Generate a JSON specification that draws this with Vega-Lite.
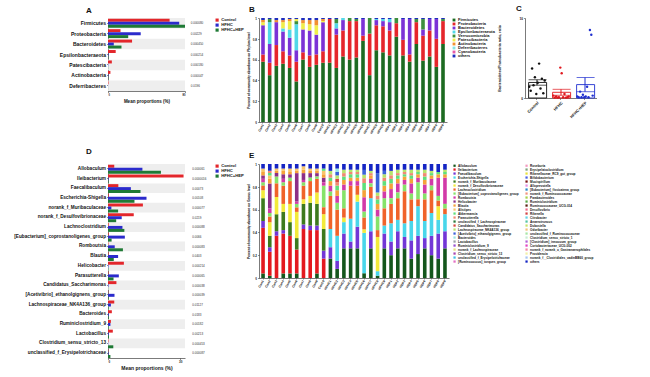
{
"$schema": "https://vega.github.io/schema/vega-lite/v6.json",
"background": "white",
"padding": {"left": 2, "top": 5, "right": 0, "bottom": 0},
"config": {
  "font": "Liberation Sans",
  "view": {"stroke": null},
  "axis": {"grid": false, "domainColor": "#222", "tickColor": "#222", "labelColor": "#111", "titleColor": "#111", "labelFontWeight": "bold", "titleFontWeight": "bold", "domainWidth": 0.6, "tickWidth": 0.5, "tickSize": 1.5, "labelPadding": 1},
  "legend": {"labelFontWeight": "bold", "labelColor": "#111", "padding": 0, "rowPadding": 0, "symbolStrokeWidth": 0, "labelOffset": 2, "symbolLimit": 0},
  "title": {"fontSize": 8, "fontWeight": "bold", "anchor": "start", "offset": 3, "color": "#111", "frame": "group"}
},
"datasets": {
  "phylumMeans": [
    {"taxon": "Firmicutes", "group": "Control", "mean": 64}, {"taxon": "Firmicutes", "group": "HFHC", "mean": 74}, {"taxon": "Firmicutes", "group": "HFHC+HEP", "mean": 80},
    {"taxon": "Proteobacteria", "group": "Control", "mean": 13}, {"taxon": "Proteobacteria", "group": "HFHC", "mean": 34}, {"taxon": "Proteobacteria", "group": "HFHC+HEP", "mean": 21},
    {"taxon": "Bacteroidetes", "group": "Control", "mean": 25}, {"taxon": "Bacteroidetes", "group": "HFHC", "mean": 6}, {"taxon": "Bacteroidetes", "group": "HFHC+HEP", "mean": 14},
    {"taxon": "Epsilonbacteraeota", "group": "Control", "mean": 8}, {"taxon": "Epsilonbacteraeota", "group": "HFHC", "mean": 0.4}, {"taxon": "Epsilonbacteraeota", "group": "HFHC+HEP", "mean": 0.3},
    {"taxon": "Patescibacteria", "group": "Control", "mean": 4}, {"taxon": "Patescibacteria", "group": "HFHC", "mean": 0.3}, {"taxon": "Patescibacteria", "group": "HFHC+HEP", "mean": 0.2},
    {"taxon": "Actinobacteria", "group": "Control", "mean": 2.5}, {"taxon": "Actinobacteria", "group": "HFHC", "mean": 0.3}, {"taxon": "Actinobacteria", "group": "HFHC+HEP", "mean": 0.2},
    {"taxon": "Deferribacteres", "group": "Control", "mean": 0.5}, {"taxon": "Deferribacteres", "group": "HFHC", "mean": 0.1}, {"taxon": "Deferribacteres", "group": "HFHC+HEP", "mean": 0.1}
  ],
  "phylumP": [
    {"taxon": "Firmicutes", "p": "0.000080"}, {"taxon": "Proteobacteria", "p": "0.00229"}, {"taxon": "Bacteroidetes", "p": "0.000450"},
    {"taxon": "Epsilonbacteraeota", "p": "0.000214"}, {"taxon": "Patescibacteria", "p": "0.000180"}, {"taxon": "Actinobacteria", "p": "0.000047"}, {"taxon": "Deferribacteres", "p": "0.0196"}
  ],
  "genusMeans": [
    {"taxon": "Allobaculum", "group": "Control", "mean": 2.6}, {"taxon": "Allobaculum", "group": "HFHC", "mean": 14.3}, {"taxon": "Allobaculum", "group": "HFHC+HEP", "mean": 22},
    {"taxon": "Ileibacterium", "group": "Control", "mean": 31.4}, {"taxon": "Ileibacterium", "group": "HFHC", "mean": 0.2}, {"taxon": "Ileibacterium", "group": "HFHC+HEP", "mean": 0.2},
    {"taxon": "Faecalibaculum", "group": "Control", "mean": 4.3}, {"taxon": "Faecalibaculum", "group": "HFHC", "mean": 9.5}, {"taxon": "Faecalibaculum", "group": "HFHC+HEP", "mean": 13.5},
    {"taxon": "Escherichia-Shigella", "group": "Control", "mean": 0.3}, {"taxon": "Escherichia-Shigella", "group": "HFHC", "mean": 16}, {"taxon": "Escherichia-Shigella", "group": "HFHC+HEP", "mean": 11},
    {"taxon": "norank_f_Muribaculaceae", "group": "Control", "mean": 14.5}, {"taxon": "norank_f_Muribaculaceae", "group": "HFHC", "mean": 1.4}, {"taxon": "norank_f_Muribaculaceae", "group": "HFHC+HEP", "mean": 4.2},
    {"taxon": "norank_f_Desulfovibrionaceae", "group": "Control", "mean": 10.7}, {"taxon": "norank_f_Desulfovibrionaceae", "group": "HFHC", "mean": 5.7}, {"taxon": "norank_f_Desulfovibrionaceae", "group": "HFHC+HEP", "mean": 3.4},
    {"taxon": "Lachnoclostridium", "group": "Control", "mean": 0.3}, {"taxon": "Lachnoclostridium", "group": "HFHC", "mean": 6}, {"taxon": "Lachnoclostridium", "group": "HFHC+HEP", "mean": 6.8},
    {"taxon": "[Eubacterium]_coprostanoligenes_group", "group": "Control", "mean": 0.3}, {"taxon": "[Eubacterium]_coprostanoligenes_group", "group": "HFHC", "mean": 7}, {"taxon": "[Eubacterium]_coprostanoligenes_group", "group": "HFHC+HEP", "mean": 1.5},
    {"taxon": "Romboutsia", "group": "Control", "mean": 0.2}, {"taxon": "Romboutsia", "group": "HFHC", "mean": 2.8}, {"taxon": "Romboutsia", "group": "HFHC+HEP", "mean": 6.2},
    {"taxon": "Blautia", "group": "Control", "mean": 0.2}, {"taxon": "Blautia", "group": "HFHC", "mean": 4.2}, {"taxon": "Blautia", "group": "HFHC+HEP", "mean": 2.4},
    {"taxon": "Helicobacter", "group": "Control", "mean": 6.6}, {"taxon": "Helicobacter", "group": "HFHC", "mean": 0.2}, {"taxon": "Helicobacter", "group": "HFHC+HEP", "mean": 0.2},
    {"taxon": "Parasutterella", "group": "Control", "mean": 0.2}, {"taxon": "Parasutterella", "group": "HFHC", "mean": 4.5}, {"taxon": "Parasutterella", "group": "HFHC+HEP", "mean": 2.3},
    {"taxon": "Candidatus_Saccharimonas", "group": "Control", "mean": 3.5}, {"taxon": "Candidatus_Saccharimonas", "group": "HFHC", "mean": 0.2}, {"taxon": "Candidatus_Saccharimonas", "group": "HFHC+HEP", "mean": 0.1},
    {"taxon": "[Acetivibrio]_ethanolgignens_group", "group": "Control", "mean": 0.1}, {"taxon": "[Acetivibrio]_ethanolgignens_group", "group": "HFHC", "mean": 2.7}, {"taxon": "[Acetivibrio]_ethanolgignens_group", "group": "HFHC+HEP", "mean": 0.2},
    {"taxon": "Lachnospiraceae_NK4A136_group", "group": "Control", "mean": 2.6}, {"taxon": "Lachnospiraceae_NK4A136_group", "group": "HFHC", "mean": 1.2}, {"taxon": "Lachnospiraceae_NK4A136_group", "group": "HFHC+HEP", "mean": 0.3},
    {"taxon": "Bacteroides", "group": "Control", "mean": 1.6}, {"taxon": "Bacteroides", "group": "HFHC", "mean": 0.3}, {"taxon": "Bacteroides", "group": "HFHC+HEP", "mean": 0.3},
    {"taxon": "Ruminiclostridium_9", "group": "Control", "mean": 1.2}, {"taxon": "Ruminiclostridium_9", "group": "HFHC", "mean": 1.0}, {"taxon": "Ruminiclostridium_9", "group": "HFHC+HEP", "mean": 0.3},
    {"taxon": "Lactobacillus", "group": "Control", "mean": 2.0}, {"taxon": "Lactobacillus", "group": "HFHC", "mean": 0.3}, {"taxon": "Lactobacillus", "group": "HFHC+HEP", "mean": 0.4},
    {"taxon": "Clostridium_sensu_stricto_13", "group": "Control", "mean": 0.2}, {"taxon": "Clostridium_sensu_stricto_13", "group": "HFHC", "mean": 0.1}, {"taxon": "Clostridium_sensu_stricto_13", "group": "HFHC+HEP", "mean": 2.2},
    {"taxon": "unclassified_f_Erysipelotrichaceae", "group": "Control", "mean": 0.1}, {"taxon": "unclassified_f_Erysipelotrichaceae", "group": "HFHC", "mean": 0.2}, {"taxon": "unclassified_f_Erysipelotrichaceae", "group": "HFHC+HEP", "mean": 1.0}
  ],
  "genusP": [
    {"taxon": "Allobaculum", "p": "0.000061"}, {"taxon": "Ileibacterium", "p": "0.0000016"}, {"taxon": "Faecalibaculum", "p": "0.00073"},
    {"taxon": "Escherichia-Shigella", "p": "0.00108"}, {"taxon": "norank_f_Muribaculaceae", "p": "0.000077"}, {"taxon": "norank_f_Desulfovibrionaceae", "p": "0.0219"},
    {"taxon": "Lachnoclostridium", "p": "0.000088"}, {"taxon": "[Eubacterium]_coprostanoligenes_group", "p": "0.0066"}, {"taxon": "Romboutsia", "p": "0.000083"},
    {"taxon": "Blautia", "p": "0.0403"}, {"taxon": "Helicobacter", "p": "0.000214"}, {"taxon": "Parasutterella", "p": "0.000065"},
    {"taxon": "Candidatus_Saccharimonas", "p": "0.000038"}, {"taxon": "[Acetivibrio]_ethanolgignens_group", "p": "0.000039"}, {"taxon": "Lachnospiraceae_NK4A136_group", "p": "0.01127"},
    {"taxon": "Bacteroides", "p": "0.0183"}, {"taxon": "Ruminiclostridium_9", "p": "0.00182"}, {"taxon": "Lactobacillus", "p": "0.00213"},
    {"taxon": "Clostridium_sensu_stricto_13", "p": "0.000453"}, {"taxon": "unclassified_f_Erysipelotrichaceae", "p": "0.000087"}
  ],
  "ratio": [
    {"group": "Control", "mouse": "5", "ratio": 4.3}, {"group": "Control", "mouse": "11", "ratio": 3.7}, {"group": "Control", "mouse": "2", "ratio": 2.6}, {"group": "Control", "mouse": "7", "ratio": 2.4},
    {"group": "Control", "mouse": "9", "ratio": 2.2}, {"group": "Control", "mouse": "4", "ratio": 1.9}, {"group": "Control", "mouse": "12", "ratio": 1.6}, {"group": "Control", "mouse": "1", "ratio": 1.4},
    {"group": "Control", "mouse": "6", "ratio": 1.2}, {"group": "Control", "mouse": "10", "ratio": 0.9}, {"group": "Control", "mouse": "8", "ratio": 0.6}, {"group": "Control", "mouse": "3", "ratio": 0.5},
    {"group": "HFHC", "mouse": "3", "ratio": 3.8}, {"group": "HFHC", "mouse": "4", "ratio": 3.1}, {"group": "HFHC", "mouse": "6", "ratio": 0.5}, {"group": "HFHC", "mouse": "1", "ratio": 0.3},
    {"group": "HFHC", "mouse": "9", "ratio": 0.2}, {"group": "HFHC", "mouse": "11", "ratio": 0.2}, {"group": "HFHC", "mouse": "2", "ratio": 0.1}, {"group": "HFHC", "mouse": "5", "ratio": 0.1},
    {"group": "HFHC", "mouse": "8", "ratio": 0.1}, {"group": "HFHC", "mouse": "7", "ratio": 0.05}, {"group": "HFHC", "mouse": "10", "ratio": 0.05}, {"group": "HFHC", "mouse": "12", "ratio": 0.05},
    {"group": "HFHC+HEP", "mouse": "7", "ratio": 8.5}, {"group": "HFHC+HEP", "mouse": "8", "ratio": 7.9}, {"group": "HFHC+HEP", "mouse": "5", "ratio": 1.4}, {"group": "HFHC+HEP", "mouse": "11", "ratio": 0.8},
    {"group": "HFHC+HEP", "mouse": "2", "ratio": 0.4}, {"group": "HFHC+HEP", "mouse": "9", "ratio": 0.3}, {"group": "HFHC+HEP", "mouse": "1", "ratio": 0.2}, {"group": "HFHC+HEP", "mouse": "4", "ratio": 0.2},
    {"group": "HFHC+HEP", "mouse": "12", "ratio": 0.1}, {"group": "HFHC+HEP", "mouse": "3", "ratio": 0.1}, {"group": "HFHC+HEP", "mouse": "6", "ratio": 0.1}, {"group": "HFHC+HEP", "mouse": "10", "ratio": 0.1}
  ],
  "phylumSamples": [
    {"sample": "Con1", "phylum": "Firmicutes", "pct": 0.58}, {"sample": "Con1", "phylum": "Proteobacteria", "pct": 0.07}, {"sample": "Con1", "phylum": "Bacteroidetes", "pct": 0.28}, {"sample": "Con1", "phylum": "Patescibacteria", "pct": 0.03}, {"sample": "Con1", "phylum": "Actinobacteria", "pct": 0.02}, {"sample": "Con1", "phylum": "others", "pct": 0.02},
    {"sample": "Con2", "phylum": "Firmicutes", "pct": 0.45}, {"sample": "Con2", "phylum": "Proteobacteria", "pct": 0.12}, {"sample": "Con2", "phylum": "Bacteroidetes", "pct": 0.18}, {"sample": "Con2", "phylum": "Epsilonbacteraeota", "pct": 0.21}, {"sample": "Con2", "phylum": "Verrucomicrobia", "pct": 0.03}, {"sample": "Con2", "phylum": "others", "pct": 0.01},
    {"sample": "Con3", "phylum": "Firmicutes", "pct": 0.54}, {"sample": "Con3", "phylum": "Proteobacteria", "pct": 0.20}, {"sample": "Con3", "phylum": "Bacteroidetes", "pct": 0.22}, {"sample": "Con3", "phylum": "Actinobacteria", "pct": 0.02}, {"sample": "Con3", "phylum": "others", "pct": 0.02},
    {"sample": "Con4", "phylum": "Firmicutes", "pct": 0.56}, {"sample": "Con4", "phylum": "Proteobacteria", "pct": 0.12}, {"sample": "Con4", "phylum": "Bacteroidetes", "pct": 0.19}, {"sample": "Con4", "phylum": "Epsilonbacteraeota", "pct": 0.03}, {"sample": "Con4", "phylum": "Patescibacteria", "pct": 0.06}, {"sample": "Con4", "phylum": "Actinobacteria", "pct": 0.02}, {"sample": "Con4", "phylum": "others", "pct": 0.02},
    {"sample": "Con5", "phylum": "Firmicutes", "pct": 0.52}, {"sample": "Con5", "phylum": "Proteobacteria", "pct": 0.12}, {"sample": "Con5", "phylum": "Bacteroidetes", "pct": 0.17}, {"sample": "Con5", "phylum": "Epsilonbacteraeota", "pct": 0.08}, {"sample": "Con5", "phylum": "Patescibacteria", "pct": 0.08}, {"sample": "Con5", "phylum": "Actinobacteria", "pct": 0.02}, {"sample": "Con5", "phylum": "others", "pct": 0.01},
    {"sample": "Con6", "phylum": "Firmicutes", "pct": 0.39}, {"sample": "Con6", "phylum": "Proteobacteria", "pct": 0.19}, {"sample": "Con6", "phylum": "Bacteroidetes", "pct": 0.11}, {"sample": "Con6", "phylum": "Epsilonbacteraeota", "pct": 0.25}, {"sample": "Con6", "phylum": "Verrucomicrobia", "pct": 0.03}, {"sample": "Con6", "phylum": "Patescibacteria", "pct": 0.02}, {"sample": "Con6", "phylum": "others", "pct": 0.01},
    {"sample": "Con7", "phylum": "Firmicutes", "pct": 0.60}, {"sample": "Con7", "phylum": "Proteobacteria", "pct": 0.07}, {"sample": "Con7", "phylum": "Bacteroidetes", "pct": 0.22}, {"sample": "Con7", "phylum": "Patescibacteria", "pct": 0.06}, {"sample": "Con7", "phylum": "Actinobacteria", "pct": 0.03}, {"sample": "Con7", "phylum": "others", "pct": 0.02},
    {"sample": "Con8", "phylum": "Firmicutes", "pct": 0.53}, {"sample": "Con8", "phylum": "Proteobacteria", "pct": 0.11}, {"sample": "Con8", "phylum": "Bacteroidetes", "pct": 0.24}, {"sample": "Con8", "phylum": "Patescibacteria", "pct": 0.06}, {"sample": "Con8", "phylum": "Actinobacteria", "pct": 0.04}, {"sample": "Con8", "phylum": "others", "pct": 0.02},
    {"sample": "Con9", "phylum": "Firmicutes", "pct": 0.55}, {"sample": "Con9", "phylum": "Proteobacteria", "pct": 0.10}, {"sample": "Con9", "phylum": "Bacteroidetes", "pct": 0.19}, {"sample": "Con9", "phylum": "Patescibacteria", "pct": 0.09}, {"sample": "Con9", "phylum": "Actinobacteria", "pct": 0.05}, {"sample": "Con9", "phylum": "others", "pct": 0.02},
    {"sample": "Con10", "phylum": "Firmicutes", "pct": 0.57}, {"sample": "Con10", "phylum": "Proteobacteria", "pct": 0.11}, {"sample": "Con10", "phylum": "Bacteroidetes", "pct": 0.28}, {"sample": "Con10", "phylum": "Patescibacteria", "pct": 0.01}, {"sample": "Con10", "phylum": "Actinobacteria", "pct": 0.02}, {"sample": "Con10", "phylum": "others", "pct": 0.01},
    {"sample": "HFHC1", "phylum": "Firmicutes", "pct": 0.57}, {"sample": "HFHC1", "phylum": "Proteobacteria", "pct": 0.42}, {"sample": "HFHC1", "phylum": "others", "pct": 0.01},
    {"sample": "HFHC2", "phylum": "Firmicutes", "pct": 0.52}, {"sample": "HFHC2", "phylum": "Proteobacteria", "pct": 0.32}, {"sample": "HFHC2", "phylum": "Bacteroidetes", "pct": 0.06}, {"sample": "HFHC2", "phylum": "Epsilonbacteraeota", "pct": 0.05}, {"sample": "HFHC2", "phylum": "Verrucomicrobia", "pct": 0.04}, {"sample": "HFHC2", "phylum": "others", "pct": 0.01},
    {"sample": "HFHC3", "phylum": "Firmicutes", "pct": 0.63}, {"sample": "HFHC3", "phylum": "Proteobacteria", "pct": 0.25}, {"sample": "HFHC3", "phylum": "Bacteroidetes", "pct": 0.10}, {"sample": "HFHC3", "phylum": "Epsilonbacteraeota", "pct": 0.02},
    {"sample": "HFHC4", "phylum": "Firmicutes", "pct": 0.60}, {"sample": "HFHC4", "phylum": "Proteobacteria", "pct": 0.37}, {"sample": "HFHC4", "phylum": "Verrucomicrobia", "pct": 0.03},
    {"sample": "HFHC5", "phylum": "Firmicutes", "pct": 0.62}, {"sample": "HFHC5", "phylum": "Proteobacteria", "pct": 0.35}, {"sample": "HFHC5", "phylum": "Verrucomicrobia", "pct": 0.02}, {"sample": "HFHC5", "phylum": "others", "pct": 0.01},
    {"sample": "HFHC6", "phylum": "Firmicutes", "pct": 0.78}, {"sample": "HFHC6", "phylum": "Proteobacteria", "pct": 0.05}, {"sample": "HFHC6", "phylum": "Bacteroidetes", "pct": 0.16}, {"sample": "HFHC6", "phylum": "others", "pct": 0.01},
    {"sample": "HFHC7", "phylum": "Firmicutes", "pct": 0.45}, {"sample": "HFHC7", "phylum": "Proteobacteria", "pct": 0.40}, {"sample": "HFHC7", "phylum": "Verrucomicrobia", "pct": 0.15},
    {"sample": "HFHC8", "phylum": "Firmicutes", "pct": 0.69}, {"sample": "HFHC8", "phylum": "Proteobacteria", "pct": 0.24}, {"sample": "HFHC8", "phylum": "Bacteroidetes", "pct": 0.05}, {"sample": "HFHC8", "phylum": "Epsilonbacteraeota", "pct": 0.01}, {"sample": "HFHC8", "phylum": "others", "pct": 0.01},
    {"sample": "HFHC9", "phylum": "Firmicutes", "pct": 0.67}, {"sample": "HFHC9", "phylum": "Proteobacteria", "pct": 0.25}, {"sample": "HFHC9", "phylum": "Bacteroidetes", "pct": 0.05}, {"sample": "HFHC9", "phylum": "Epsilonbacteraeota", "pct": 0.02}, {"sample": "HFHC9", "phylum": "others", "pct": 0.01},
    {"sample": "HEP1", "phylum": "Firmicutes", "pct": 0.64}, {"sample": "HEP1", "phylum": "Proteobacteria", "pct": 0.24}, {"sample": "HEP1", "phylum": "Bacteroidetes", "pct": 0.08}, {"sample": "HEP1", "phylum": "Epsilonbacteraeota", "pct": 0.03}, {"sample": "HEP1", "phylum": "others", "pct": 0.01},
    {"sample": "HEP2", "phylum": "Firmicutes", "pct": 0.82}, {"sample": "HEP2", "phylum": "Proteobacteria", "pct": 0.13}, {"sample": "HEP2", "phylum": "Verrucomicrobia", "pct": 0.05},
    {"sample": "HEP3", "phylum": "Firmicutes", "pct": 0.64}, {"sample": "HEP3", "phylum": "Proteobacteria", "pct": 0.15}, {"sample": "HEP3", "phylum": "Bacteroidetes", "pct": 0.20}, {"sample": "HEP3", "phylum": "others", "pct": 0.01},
    {"sample": "HEP4", "phylum": "Firmicutes", "pct": 0.58}, {"sample": "HEP4", "phylum": "Proteobacteria", "pct": 0.07}, {"sample": "HEP4", "phylum": "Bacteroidetes", "pct": 0.34}, {"sample": "HEP4", "phylum": "others", "pct": 0.01},
    {"sample": "HEP5", "phylum": "Firmicutes", "pct": 0.75}, {"sample": "HEP5", "phylum": "Proteobacteria", "pct": 0.21}, {"sample": "HEP5", "phylum": "Verrucomicrobia", "pct": 0.03}, {"sample": "HEP5", "phylum": "others", "pct": 0.01},
    {"sample": "HEP6", "phylum": "Firmicutes", "pct": 0.59}, {"sample": "HEP6", "phylum": "Proteobacteria", "pct": 0.24}, {"sample": "HEP6", "phylum": "Bacteroidetes", "pct": 0.06}, {"sample": "HEP6", "phylum": "Verrucomicrobia", "pct": 0.10}, {"sample": "HEP6", "phylum": "others", "pct": 0.01},
    {"sample": "HEP7", "phylum": "Firmicutes", "pct": 0.63}, {"sample": "HEP7", "phylum": "Proteobacteria", "pct": 0.25}, {"sample": "HEP7", "phylum": "Bacteroidetes", "pct": 0.11}, {"sample": "HEP7", "phylum": "others", "pct": 0.01},
    {"sample": "HEP8", "phylum": "Firmicutes", "pct": 0.53}, {"sample": "HEP8", "phylum": "Proteobacteria", "pct": 0.27}, {"sample": "HEP8", "phylum": "Bacteroidetes", "pct": 0.19}, {"sample": "HEP8", "phylum": "others", "pct": 0.01},
    {"sample": "HEP9", "phylum": "Firmicutes", "pct": 0.75}, {"sample": "HEP9", "phylum": "Proteobacteria", "pct": 0.22}, {"sample": "HEP9", "phylum": "Verrucomicrobia", "pct": 0.02}, {"sample": "HEP9", "phylum": "others", "pct": 0.01}
  ],
  "genusSamples": [
    {"sample": "Con1", "genus": "Allobaculum", "pct": 0.04}, {"sample": "Con1", "genus": "Ileibacterium", "pct": 0.40}, {"sample": "Con1", "genus": "Faecalibaculum", "pct": 0.06}, {"sample": "Con1", "genus": "norank_f_Muribaculaceae", "pct": 0.20}, {"sample": "Con1", "genus": "norank_f_Desulfovibrionaceae", "pct": 0.07}, {"sample": "Con1", "genus": "[Eubacterium]_coprostanoligenes_group", "pct": 0.03}, {"sample": "Con1", "genus": "Lachnoclostridium", "pct": 0.04}, {"sample": "Con1", "genus": "Helicobacter", "pct": 0.03}, {"sample": "Con1", "genus": "Blautia", "pct": 0.03}, {"sample": "Con1", "genus": "Alistipes", "pct": 0.03}, {"sample": "Con1", "genus": "Romboutsia", "pct": 0.03}, {"sample": "Con1", "genus": "others", "pct": 0.04},
    {"sample": "Con2", "genus": "Allobaculum", "pct": 0.02}, {"sample": "Con2", "genus": "Ileibacterium", "pct": 0.21}, {"sample": "Con2", "genus": "Faecalibaculum", "pct": 0.04}, {"sample": "Con2", "genus": "norank_f_Muribaculaceae", "pct": 0.10}, {"sample": "Con2", "genus": "norank_f_Desulfovibrionaceae", "pct": 0.12}, {"sample": "Con2", "genus": "Helicobacter", "pct": 0.22}, {"sample": "Con2", "genus": "Lachnoclostridium", "pct": 0.05}, {"sample": "Con2", "genus": "Romboutsia", "pct": 0.04}, {"sample": "Con2", "genus": "Blautia", "pct": 0.04}, {"sample": "Con2", "genus": "Alistipes", "pct": 0.03}, {"sample": "Con2", "genus": "[Eubacterium]_coprostanoligenes_group", "pct": 0.03}, {"sample": "Con2", "genus": "Akkermansia", "pct": 0.02}, {"sample": "Con2", "genus": "Parasutterella", "pct": 0.02}, {"sample": "Con2", "genus": "others", "pct": 0.06},
    {"sample": "Con3", "genus": "Ileibacterium", "pct": 0.37}, {"sample": "Con3", "genus": "Faecalibaculum", "pct": 0.04}, {"sample": "Con3", "genus": "norank_f_Muribaculaceae", "pct": 0.15}, {"sample": "Con3", "genus": "norank_f_Desulfovibrionaceae", "pct": 0.15}, {"sample": "Con3", "genus": "[Eubacterium]_coprostanoligenes_group", "pct": 0.06}, {"sample": "Con3", "genus": "Lachnoclostridium", "pct": 0.12}, {"sample": "Con3", "genus": "Helicobacter", "pct": 0.03}, {"sample": "Con3", "genus": "Blautia", "pct": 0.02}, {"sample": "Con3", "genus": "Alistipes", "pct": 0.02}, {"sample": "Con3", "genus": "others", "pct": 0.04},
    {"sample": "Con4", "genus": "Allobaculum", "pct": 0.04}, {"sample": "Con4", "genus": "Ileibacterium", "pct": 0.35}, {"sample": "Con4", "genus": "Faecalibaculum", "pct": 0.03}, {"sample": "Con4", "genus": "norank_f_Muribaculaceae", "pct": 0.16}, {"sample": "Con4", "genus": "norank_f_Desulfovibrionaceae", "pct": 0.07}, {"sample": "Con4", "genus": "Lachnoclostridium", "pct": 0.16}, {"sample": "Con4", "genus": "[Eubacterium]_coprostanoligenes_group", "pct": 0.03}, {"sample": "Con4", "genus": "Helicobacter", "pct": 0.04}, {"sample": "Con4", "genus": "Blautia", "pct": 0.03}, {"sample": "Con4", "genus": "Romboutsia", "pct": 0.03}, {"sample": "Con4", "genus": "Alistipes", "pct": 0.02}, {"sample": "Con4", "genus": "others", "pct": 0.04},
    {"sample": "Con5", "genus": "Allobaculum", "pct": 0.04}, {"sample": "Con5", "genus": "Ileibacterium", "pct": 0.33}, {"sample": "Con5", "genus": "norank_f_Muribaculaceae", "pct": 0.12}, {"sample": "Con5", "genus": "norank_f_Desulfovibrionaceae", "pct": 0.16}, {"sample": "Con5", "genus": "Lachnoclostridium", "pct": 0.20}, {"sample": "Con5", "genus": "[Eubacterium]_coprostanoligenes_group", "pct": 0.03}, {"sample": "Con5", "genus": "Helicobacter", "pct": 0.03}, {"sample": "Con5", "genus": "Blautia", "pct": 0.02}, {"sample": "Con5", "genus": "Alistipes", "pct": 0.03}, {"sample": "Con5", "genus": "others", "pct": 0.04},
    {"sample": "Con6", "genus": "Allobaculum", "pct": 0.04}, {"sample": "Con6", "genus": "Ileibacterium", "pct": 0.21}, {"sample": "Con6", "genus": "norank_f_Muribaculaceae", "pct": 0.10}, {"sample": "Con6", "genus": "norank_f_Desulfovibrionaceae", "pct": 0.23}, {"sample": "Con6", "genus": "Helicobacter", "pct": 0.25}, {"sample": "Con6", "genus": "Lachnoclostridium", "pct": 0.04}, {"sample": "Con6", "genus": "[Eubacterium]_coprostanoligenes_group", "pct": 0.03}, {"sample": "Con6", "genus": "Blautia", "pct": 0.02}, {"sample": "Con6", "genus": "Alistipes", "pct": 0.02}, {"sample": "Con6", "genus": "Romboutsia", "pct": 0.02}, {"sample": "Con6", "genus": "others", "pct": 0.04},
    {"sample": "Con7", "genus": "Ileibacterium", "pct": 0.43}, {"sample": "Con7", "genus": "Faecalibaculum", "pct": 0.04}, {"sample": "Con7", "genus": "norank_f_Muribaculaceae", "pct": 0.18}, {"sample": "Con7", "genus": "norank_f_Desulfovibrionaceae", "pct": 0.04}, {"sample": "Con7", "genus": "Lachnoclostridium", "pct": 0.12}, {"sample": "Con7", "genus": "Helicobacter", "pct": 0.06}, {"sample": "Con7", "genus": "[Eubacterium]_coprostanoligenes_group", "pct": 0.03}, {"sample": "Con7", "genus": "Blautia", "pct": 0.03}, {"sample": "Con7", "genus": "Alistipes", "pct": 0.03}, {"sample": "Con7", "genus": "Romboutsia", "pct": 0.02}, {"sample": "Con7", "genus": "others", "pct": 0.02},
    {"sample": "Con8", "genus": "Ileibacterium", "pct": 0.42}, {"sample": "Con8", "genus": "Faecalibaculum", "pct": 0.04}, {"sample": "Con8", "genus": "norank_f_Muribaculaceae", "pct": 0.20}, {"sample": "Con8", "genus": "norank_f_Desulfovibrionaceae", "pct": 0.06}, {"sample": "Con8", "genus": "Lachnoclostridium", "pct": 0.13}, {"sample": "Con8", "genus": "Helicobacter", "pct": 0.04}, {"sample": "Con8", "genus": "[Eubacterium]_coprostanoligenes_group", "pct": 0.03}, {"sample": "Con8", "genus": "Blautia", "pct": 0.02}, {"sample": "Con8", "genus": "Alistipes", "pct": 0.02}, {"sample": "Con8", "genus": "others", "pct": 0.04},
    {"sample": "Con9", "genus": "Allobaculum", "pct": 0.04}, {"sample": "Con9", "genus": "Ileibacterium", "pct": 0.38}, {"sample": "Con9", "genus": "Faecalibaculum", "pct": 0.04}, {"sample": "Con9", "genus": "norank_f_Muribaculaceae", "pct": 0.19}, {"sample": "Con9", "genus": "norank_f_Desulfovibrionaceae", "pct": 0.10}, {"sample": "Con9", "genus": "Lachnoclostridium", "pct": 0.12}, {"sample": "Con9", "genus": "Helicobacter", "pct": 0.03}, {"sample": "Con9", "genus": "[Eubacterium]_coprostanoligenes_group", "pct": 0.02}, {"sample": "Con9", "genus": "Blautia", "pct": 0.02}, {"sample": "Con9", "genus": "Alistipes", "pct": 0.02}, {"sample": "Con9", "genus": "others", "pct": 0.04},
    {"sample": "Con10", "genus": "Ileibacterium", "pct": 0.17}, {"sample": "Con10", "genus": "Faecalibaculum", "pct": 0.07}, {"sample": "Con10", "genus": "norank_f_Muribaculaceae", "pct": 0.19}, {"sample": "Con10", "genus": "norank_f_Desulfovibrionaceae", "pct": 0.13}, {"sample": "Con10", "genus": "[Eubacterium]_coprostanoligenes_group", "pct": 0.19}, {"sample": "Con10", "genus": "Lachnoclostridium", "pct": 0.06}, {"sample": "Con10", "genus": "Helicobacter", "pct": 0.04}, {"sample": "Con10", "genus": "Romboutsia", "pct": 0.03}, {"sample": "Con10", "genus": "Blautia", "pct": 0.03}, {"sample": "Con10", "genus": "Alistipes", "pct": 0.03}, {"sample": "Con10", "genus": "Akkermansia", "pct": 0.02}, {"sample": "Con10", "genus": "others", "pct": 0.04},
    {"sample": "HFHC1", "genus": "Allobaculum", "pct": 0.17}, {"sample": "HFHC1", "genus": "Faecalibaculum", "pct": 0.10}, {"sample": "HFHC1", "genus": "Escherichia-Shigella", "pct": 0.16}, {"sample": "HFHC1", "genus": "Lachnoclostridium", "pct": 0.29}, {"sample": "HFHC1", "genus": "[Eubacterium]_coprostanoligenes_group", "pct": 0.04}, {"sample": "HFHC1", "genus": "Romboutsia", "pct": 0.05}, {"sample": "HFHC1", "genus": "Blautia", "pct": 0.04}, {"sample": "HFHC1", "genus": "Akkermansia", "pct": 0.03}, {"sample": "HFHC1", "genus": "Parasutterella", "pct": 0.03}, {"sample": "HFHC1", "genus": "Lachnospiraceae_NK4A136_group", "pct": 0.03}, {"sample": "HFHC1", "genus": "others", "pct": 0.06},
    {"sample": "HFHC2", "genus": "Allobaculum", "pct": 0.08}, {"sample": "HFHC2", "genus": "Faecalibaculum", "pct": 0.07}, {"sample": "HFHC2", "genus": "Escherichia-Shigella", "pct": 0.22}, {"sample": "HFHC2", "genus": "Lachnoclostridium", "pct": 0.23}, {"sample": "HFHC2", "genus": "[Eubacterium]_coprostanoligenes_group", "pct": 0.06}, {"sample": "HFHC2", "genus": "Romboutsia", "pct": 0.06}, {"sample": "HFHC2", "genus": "Blautia", "pct": 0.05}, {"sample": "HFHC2", "genus": "Akkermansia", "pct": 0.04}, {"sample": "HFHC2", "genus": "Parasutterella", "pct": 0.03}, {"sample": "HFHC2", "genus": "Candidatus_Saccharimonas", "pct": 0.03}, {"sample": "HFHC2", "genus": "Lachnospiraceae_NK4A136_group", "pct": 0.03}, {"sample": "HFHC2", "genus": "[Acetivibrio]_ethanolgignens_group", "pct": 0.03}, {"sample": "HFHC2", "genus": "Bacteroides", "pct": 0.03}, {"sample": "HFHC2", "genus": "others", "pct": 0.04},
    {"sample": "HFHC3", "genus": "Allobaculum", "pct": 0.26}, {"sample": "HFHC3", "genus": "Faecalibaculum", "pct": 0.13}, {"sample": "HFHC3", "genus": "Escherichia-Shigella", "pct": 0.10}, {"sample": "HFHC3", "genus": "norank_f_Desulfovibrionaceae", "pct": 0.04}, {"sample": "HFHC3", "genus": "[Eubacterium]_coprostanoligenes_group", "pct": 0.16}, {"sample": "HFHC3", "genus": "Lachnoclostridium", "pct": 0.08}, {"sample": "HFHC3", "genus": "Romboutsia", "pct": 0.05}, {"sample": "HFHC3", "genus": "Blautia", "pct": 0.04}, {"sample": "HFHC3", "genus": "Akkermansia", "pct": 0.03}, {"sample": "HFHC3", "genus": "Parasutterella", "pct": 0.03}, {"sample": "HFHC3", "genus": "Lachnospiraceae_NK4A136_group", "pct": 0.03}, {"sample": "HFHC3", "genus": "others", "pct": 0.05},
    {"sample": "HFHC4", "genus": "Allobaculum", "pct": 0.26}, {"sample": "HFHC4", "genus": "Faecalibaculum", "pct": 0.06}, {"sample": "HFHC4", "genus": "Escherichia-Shigella", "pct": 0.20}, {"sample": "HFHC4", "genus": "Lachnoclostridium", "pct": 0.29}, {"sample": "HFHC4", "genus": "Romboutsia", "pct": 0.04}, {"sample": "HFHC4", "genus": "Blautia", "pct": 0.03}, {"sample": "HFHC4", "genus": "Akkermansia", "pct": 0.03}, {"sample": "HFHC4", "genus": "Parasutterella", "pct": 0.02}, {"sample": "HFHC4", "genus": "Lachnospiraceae_NK4A136_group", "pct": 0.02}, {"sample": "HFHC4", "genus": "others", "pct": 0.05},
    {"sample": "HFHC5", "genus": "Allobaculum", "pct": 0.26}, {"sample": "HFHC5", "genus": "Faecalibaculum", "pct": 0.19}, {"sample": "HFHC5", "genus": "Escherichia-Shigella", "pct": 0.22}, {"sample": "HFHC5", "genus": "norank_f_Desulfovibrionaceae", "pct": 0.06}, {"sample": "HFHC5", "genus": "Lachnoclostridium", "pct": 0.08}, {"sample": "HFHC5", "genus": "Romboutsia", "pct": 0.04}, {"sample": "HFHC5", "genus": "Blautia", "pct": 0.03}, {"sample": "HFHC5", "genus": "Akkermansia", "pct": 0.03}, {"sample": "HFHC5", "genus": "Parasutterella", "pct": 0.02}, {"sample": "HFHC5", "genus": "Lachnospiraceae_NK4A136_group", "pct": 0.02}, {"sample": "HFHC5", "genus": "others", "pct": 0.05},
    {"sample": "HFHC6", "genus": "Allobaculum", "pct": 0.04}, {"sample": "HFHC6", "genus": "Escherichia-Shigella", "pct": 0.34}, {"sample": "HFHC6", "genus": "norank_f_Desulfovibrionaceae", "pct": 0.03}, {"sample": "HFHC6", "genus": "Lachnoclostridium", "pct": 0.10}, {"sample": "HFHC6", "genus": "[Eubacterium]_coprostanoligenes_group", "pct": 0.05}, {"sample": "HFHC6", "genus": "Romboutsia", "pct": 0.12}, {"sample": "HFHC6", "genus": "Blautia", "pct": 0.06}, {"sample": "HFHC6", "genus": "Akkermansia", "pct": 0.06}, {"sample": "HFHC6", "genus": "Parasutterella", "pct": 0.04}, {"sample": "HFHC6", "genus": "Lachnospiraceae_NK4A136_group", "pct": 0.03}, {"sample": "HFHC6", "genus": "[Acetivibrio]_ethanolgignens_group", "pct": 0.04}, {"sample": "HFHC6", "genus": "others", "pct": 0.05},
    {"sample": "HFHC7", "genus": "Allobaculum", "pct": 0.26}, {"sample": "HFHC7", "genus": "Faecalibaculum", "pct": 0.15}, {"sample": "HFHC7", "genus": "Escherichia-Shigella", "pct": 0.29}, {"sample": "HFHC7", "genus": "Lachnoclostridium", "pct": 0.10}, {"sample": "HFHC7", "genus": "Romboutsia", "pct": 0.04}, {"sample": "HFHC7", "genus": "Blautia", "pct": 0.03}, {"sample": "HFHC7", "genus": "[Eubacterium]_coprostanoligenes_group", "pct": 0.03}, {"sample": "HFHC7", "genus": "Parasutterella", "pct": 0.02}, {"sample": "HFHC7", "genus": "Lachnospiraceae_NK4A136_group", "pct": 0.02}, {"sample": "HFHC7", "genus": "others", "pct": 0.06},
    {"sample": "HFHC8", "genus": "Allobaculum", "pct": 0.02}, {"sample": "HFHC8", "genus": "Escherichia-Shigella", "pct": 0.04}, {"sample": "HFHC8", "genus": "norank_f_Desulfovibrionaceae", "pct": 0.30}, {"sample": "HFHC8", "genus": "Lachnoclostridium", "pct": 0.06}, {"sample": "HFHC8", "genus": "[Eubacterium]_coprostanoligenes_group", "pct": 0.12}, {"sample": "HFHC8", "genus": "Romboutsia", "pct": 0.06}, {"sample": "HFHC8", "genus": "Blautia", "pct": 0.05}, {"sample": "HFHC8", "genus": "Akkermansia", "pct": 0.04}, {"sample": "HFHC8", "genus": "Parasutterella", "pct": 0.03}, {"sample": "HFHC8", "genus": "Lachnospiraceae_NK4A136_group", "pct": 0.03}, {"sample": "HFHC8", "genus": "[Acetivibrio]_ethanolgignens_group", "pct": 0.17}, {"sample": "HFHC8", "genus": "others", "pct": 0.08},
    {"sample": "HFHC9", "genus": "Allobaculum", "pct": 0.26}, {"sample": "HFHC9", "genus": "Faecalibaculum", "pct": 0.13}, {"sample": "HFHC9", "genus": "Escherichia-Shigella", "pct": 0.07}, {"sample": "HFHC9", "genus": "[Eubacterium]_coprostanoligenes_group", "pct": 0.09}, {"sample": "HFHC9", "genus": "Lachnoclostridium", "pct": 0.15}, {"sample": "HFHC9", "genus": "Romboutsia", "pct": 0.06}, {"sample": "HFHC9", "genus": "Blautia", "pct": 0.05}, {"sample": "HFHC9", "genus": "Akkermansia", "pct": 0.04}, {"sample": "HFHC9", "genus": "Parasutterella", "pct": 0.03}, {"sample": "HFHC9", "genus": "Lachnospiraceae_NK4A136_group", "pct": 0.03}, {"sample": "HFHC9", "genus": "[Acetivibrio]_ethanolgignens_group", "pct": 0.03}, {"sample": "HFHC9", "genus": "others", "pct": 0.06},
    {"sample": "HEP1", "genus": "Allobaculum", "pct": 0.20}, {"sample": "HEP1", "genus": "Faecalibaculum", "pct": 0.12}, {"sample": "HEP1", "genus": "Escherichia-Shigella", "pct": 0.16}, {"sample": "HEP1", "genus": "Lachnoclostridium", "pct": 0.17}, {"sample": "HEP1", "genus": "Romboutsia", "pct": 0.08}, {"sample": "HEP1", "genus": "[Eubacterium]_coprostanoligenes_group", "pct": 0.05}, {"sample": "HEP1", "genus": "Blautia", "pct": 0.05}, {"sample": "HEP1", "genus": "Akkermansia", "pct": 0.04}, {"sample": "HEP1", "genus": "Lachnospiraceae_NK4A136_group", "pct": 0.04}, {"sample": "HEP1", "genus": "Parasutterella", "pct": 0.03}, {"sample": "HEP1", "genus": "others", "pct": 0.06},
    {"sample": "HEP2", "genus": "Allobaculum", "pct": 0.26}, {"sample": "HEP2", "genus": "Faecalibaculum", "pct": 0.15}, {"sample": "HEP2", "genus": "Escherichia-Shigella", "pct": 0.10}, {"sample": "HEP2", "genus": "Lachnoclostridium", "pct": 0.19}, {"sample": "HEP2", "genus": "Romboutsia", "pct": 0.08}, {"sample": "HEP2", "genus": "[Eubacterium]_coprostanoligenes_group", "pct": 0.05}, {"sample": "HEP2", "genus": "Blautia", "pct": 0.04}, {"sample": "HEP2", "genus": "Akkermansia", "pct": 0.03}, {"sample": "HEP2", "genus": "Lachnospiraceae_NK4A136_group", "pct": 0.03}, {"sample": "HEP2", "genus": "Parasutterella", "pct": 0.02}, {"sample": "HEP2", "genus": "others", "pct": 0.05},
    {"sample": "HEP3", "genus": "Allobaculum", "pct": 0.26}, {"sample": "HEP3", "genus": "Faecalibaculum", "pct": 0.10}, {"sample": "HEP3", "genus": "Escherichia-Shigella", "pct": 0.12}, {"sample": "HEP3", "genus": "[Eubacterium]_coprostanoligenes_group", "pct": 0.06}, {"sample": "HEP3", "genus": "Lachnoclostridium", "pct": 0.28}, {"sample": "HEP3", "genus": "Romboutsia", "pct": 0.04}, {"sample": "HEP3", "genus": "Blautia", "pct": 0.03}, {"sample": "HEP3", "genus": "Akkermansia", "pct": 0.02}, {"sample": "HEP3", "genus": "Lachnospiraceae_NK4A136_group", "pct": 0.02}, {"sample": "HEP3", "genus": "Parasutterella", "pct": 0.02}, {"sample": "HEP3", "genus": "others", "pct": 0.05},
    {"sample": "HEP4", "genus": "Allobaculum", "pct": 0.17}, {"sample": "HEP4", "genus": "Faecalibaculum", "pct": 0.16}, {"sample": "HEP4", "genus": "Escherichia-Shigella", "pct": 0.17}, {"sample": "HEP4", "genus": "Lachnoclostridium", "pct": 0.19}, {"sample": "HEP4", "genus": "Romboutsia", "pct": 0.09}, {"sample": "HEP4", "genus": "[Eubacterium]_coprostanoligenes_group", "pct": 0.05}, {"sample": "HEP4", "genus": "Blautia", "pct": 0.04}, {"sample": "HEP4", "genus": "Akkermansia", "pct": 0.03}, {"sample": "HEP4", "genus": "Lachnospiraceae_NK4A136_group", "pct": 0.03}, {"sample": "HEP4", "genus": "Parasutterella", "pct": 0.02}, {"sample": "HEP4", "genus": "others", "pct": 0.05},
    {"sample": "HEP5", "genus": "Allobaculum", "pct": 0.21}, {"sample": "HEP5", "genus": "Faecalibaculum", "pct": 0.16}, {"sample": "HEP5", "genus": "Escherichia-Shigella", "pct": 0.26}, {"sample": "HEP5", "genus": "[Eubacterium]_coprostanoligenes_group", "pct": 0.15}, {"sample": "HEP5", "genus": "Lachnoclostridium", "pct": 0.06}, {"sample": "HEP5", "genus": "Romboutsia", "pct": 0.04}, {"sample": "HEP5", "genus": "Blautia", "pct": 0.03}, {"sample": "HEP5", "genus": "Akkermansia", "pct": 0.02}, {"sample": "HEP5", "genus": "Lachnospiraceae_NK4A136_group", "pct": 0.02}, {"sample": "HEP5", "genus": "others", "pct": 0.05},
    {"sample": "HEP6", "genus": "Allobaculum", "pct": 0.26}, {"sample": "HEP6", "genus": "Faecalibaculum", "pct": 0.09}, {"sample": "HEP6", "genus": "Escherichia-Shigella", "pct": 0.15}, {"sample": "HEP6", "genus": "Lachnoclostridium", "pct": 0.19}, {"sample": "HEP6", "genus": "Romboutsia", "pct": 0.08}, {"sample": "HEP6", "genus": "[Eubacterium]_coprostanoligenes_group", "pct": 0.05}, {"sample": "HEP6", "genus": "Blautia", "pct": 0.04}, {"sample": "HEP6", "genus": "Akkermansia", "pct": 0.03}, {"sample": "HEP6", "genus": "Lachnospiraceae_NK4A136_group", "pct": 0.03}, {"sample": "HEP6", "genus": "Parasutterella", "pct": 0.03}, {"sample": "HEP6", "genus": "others", "pct": 0.05},
    {"sample": "HEP7", "genus": "Allobaculum", "pct": 0.20}, {"sample": "HEP7", "genus": "Faecalibaculum", "pct": 0.17}, {"sample": "HEP7", "genus": "Escherichia-Shigella", "pct": 0.20}, {"sample": "HEP7", "genus": "Lachnoclostridium", "pct": 0.20}, {"sample": "HEP7", "genus": "Romboutsia", "pct": 0.06}, {"sample": "HEP7", "genus": "[Eubacterium]_coprostanoligenes_group", "pct": 0.04}, {"sample": "HEP7", "genus": "Blautia", "pct": 0.03}, {"sample": "HEP7", "genus": "Akkermansia", "pct": 0.02}, {"sample": "HEP7", "genus": "Lachnospiraceae_NK4A136_group", "pct": 0.02}, {"sample": "HEP7", "genus": "others", "pct": 0.06},
    {"sample": "HEP8", "genus": "Allobaculum", "pct": 0.17}, {"sample": "HEP8", "genus": "Faecalibaculum", "pct": 0.22}, {"sample": "HEP8", "genus": "Escherichia-Shigella", "pct": 0.12}, {"sample": "HEP8", "genus": "norank_f_Desulfovibrionaceae", "pct": 0.12}, {"sample": "HEP8", "genus": "Romboutsia", "pct": 0.16}, {"sample": "HEP8", "genus": "Lachnoclostridium", "pct": 0.05}, {"sample": "HEP8", "genus": "[Eubacterium]_coprostanoligenes_group", "pct": 0.04}, {"sample": "HEP8", "genus": "Blautia", "pct": 0.03}, {"sample": "HEP8", "genus": "Akkermansia", "pct": 0.02}, {"sample": "HEP8", "genus": "others", "pct": 0.07},
    {"sample": "HEP9", "genus": "Allobaculum", "pct": 0.26}, {"sample": "HEP9", "genus": "Faecalibaculum", "pct": 0.15}, {"sample": "HEP9", "genus": "Escherichia-Shigella", "pct": 0.15}, {"sample": "HEP9", "genus": "Romboutsia", "pct": 0.23}, {"sample": "HEP9", "genus": "Lachnoclostridium", "pct": 0.05}, {"sample": "HEP9", "genus": "[Eubacterium]_coprostanoligenes_group", "pct": 0.04}, {"sample": "HEP9", "genus": "Blautia", "pct": 0.03}, {"sample": "HEP9", "genus": "Akkermansia", "pct": 0.02}, {"sample": "HEP9", "genus": "Lachnospiraceae_NK4A136_group", "pct": 0.02}, {"sample": "HEP9", "genus": "others", "pct": 0.05}
  ]
},
"spacing": 14,
"resolve": {"scale": {"color": "independent", "stroke": "independent"}, "legend": {"color": "independent"}},
"vconcat": [
  {
    "spacing": 2,
    "resolve": {"scale": {"color": "independent", "stroke": "independent"}, "legend": {"color": "independent"}},
    "hconcat": [
      {
        "title": {"text": "A", "dx": -22},
        "width": 77, "height": 73,
        "encoding": {"y": {"field": "taxon", "type": "nominal", "sort": ["Firmicutes", "Proteobacteria", "Bacteroidetes", "Epsilonbacteraeota", "Patescibacteria", "Actinobacteria", "Deferribacteres"], "scale": {"paddingInner": 0, "paddingOuter": 0}, "axis": {"title": null, "labelFontSize": 5, "minExtent": 106, "maxExtent": 106, "labelPadding": 1, "tickSize": 1.5}}},
        "layer": [
          {"data": {"name": "phylumP"}, "transform": [{"filter": {"field": "taxon", "oneOf": ["Firmicutes", "Bacteroidetes", "Patescibacteria", "Deferribacteres"]}}], "mark": {"type": "bar", "color": "#eeeeee"}, "encoding": {"x": {"datum": 80, "type": "quantitative", "scale": {"domain": [0, 80], "nice": false}}}},
          {"data": {"name": "phylumMeans"}, "mark": {"type": "bar"}, "encoding": {
            "x": {"field": "mean", "type": "quantitative", "scale": {"domain": [0, 80], "nice": false}, "axis": {"title": "Mean proportions (%)", "titleFontSize": 4.5, "titlePadding": 2, "labelFontSize": 2.6, "labelOverlap": false, "values": [0, 5, 10, 15, 20, 25, 30, 35, 40, 45, 50, 55, 60, 65, 70, 75, 80], "labelAngle": 0}},
            "yOffset": {"field": "group", "sort": ["Control", "HFHC", "HFHC+HEP"], "scale": {"paddingOuter": 0.25}},
            "color": {"field": "group", "type": "nominal", "scale": {"domain": ["Control", "HFHC", "HFHC+HEP"], "range": ["#e3262b", "#2b2bcc", "#1f7a35"]}, "legend": {"title": null, "orient": "right", "offset": 30, "labelFontSize": 4.2, "symbolSize": 10, "symbolType": "square", "rowPadding": 0}}
          }},
          {"data": {"name": "phylumP"}, "mark": {"type": "text", "align": "left", "fontSize": 3, "color": "#333"}, "encoding": {"x": {"datum": 86, "type": "quantitative", "scale": {"domain": [0, 80], "nice": false}}, "text": {"field": "p"}}}
        ]
      },
      {
        "title": {"text": "B", "dx": -10},
        "width": 188, "height": 104,
        "data": {"name": "phylumSamples"},
        "transform": [{"calculate": "indexof(['Firmicutes','Proteobacteria','Bacteroidetes','Epsilonbacteraeota','Verrucomicrobia','Patescibacteria','Actinobacteria','Deferribacteres','Cyanobacteria','others'], datum.phylum)", "as": "rank"}],
        "mark": {"type": "bar", "width": 3.6},
        "encoding": {
          "x": {"field": "sample", "type": "nominal", "sort": null, "scale": {"type": "band", "paddingInner": 0, "paddingOuter": 0.1}, "axis": {"title": null, "labelAngle": -60, "labelFontSize": 3.2, "tickSize": 1}},
          "y": {"field": "pct", "type": "quantitative", "stack": "normalize", "axis": {"title": "Percent of community abundance on Phylum level", "titleFontSize": 3.2, "titlePadding": 1.5, "labelFontSize": 3, "values": [0, 0.2, 0.4, 0.6, 0.8, 1], "labelExpr": "format(datum.value, '~g')"}},
          "color": {"field": "phylum", "type": "nominal", "scale": {"domain": ["Firmicutes", "Proteobacteria", "Bacteroidetes", "Epsilonbacteraeota", "Verrucomicrobia", "Patescibacteria", "Actinobacteria", "Deferribacteres", "Cyanobacteria", "others"], "range": ["#1d6b22", "#e5262b", "#7b32d6", "#52d8e8", "#3d8f3d", "#f0ee4a", "#f29130", "#86e3e3", "#e65aa8", "#1e2dbd"]}, "legend": {"title": null, "orient": "right", "offset": 5, "labelFontSize": 4, "symbolSize": 8, "symbolType": "square", "rowPadding": 0}},
          "order": {"field": "rank", "type": "quantitative"}
        }
      },
      {
        "title": {"text": "C", "dx": -9},
        "width": 72, "height": 80,
        "data": {"name": "ratio"},
        "encoding": {"x": {"field": "group", "type": "nominal", "sort": ["Control", "HFHC", "HFHC+HEP"], "scale": {"paddingInner": 0.3, "paddingOuter": 0.15}, "axis": {"title": null, "labelAngle": -45, "labelFontSize": 4, "tickSize": 1.5}}},
        "layer": [
          {"mark": {"type": "bar", "fill": "white", "strokeWidth": 0.9}, "encoding": {
            "y": {"aggregate": "mean", "field": "ratio", "type": "quantitative", "scale": {"domain": [0, 10]}, "axis": {"title": "Bacteroidetes/Proteobacteria ratio", "titleFontSize": 3.5, "titlePadding": 2, "labelFontSize": 3.2, "values": [0, 2, 4, 6, 8, 10], "minExtent": 22}},
            "stroke": {"field": "group", "type": "nominal", "scale": {"domain": ["Control", "HFHC", "HFHC+HEP"], "range": ["#111111", "#e0181e", "#1f2fd0"]}, "legend": null}
          }},
          {"mark": {"type": "errorbar", "extent": "stderr", "ticks": true}, "encoding": {
            "y": {"field": "ratio", "type": "quantitative"},
            "color": {"field": "group", "type": "nominal", "scale": {"domain": ["Control", "HFHC", "HFHC+HEP"], "range": ["#111111", "#e0181e", "#1f2fd0"]}, "legend": null}
          }},
          {"mark": {"type": "point", "filled": true, "size": 6, "opacity": 1}, "encoding": {
            "y": {"field": "ratio", "type": "quantitative"},
            "xOffset": {"field": "mouse", "type": "nominal", "scale": {"paddingOuter": 0.5}},
            "color": {"field": "group", "type": "nominal", "scale": {"domain": ["Control", "HFHC", "HFHC+HEP"], "range": ["#111111", "#e0181e", "#1f2fd0"]}, "legend": null}
          }}
        ]
      }
    ]
  },
  {
    "spacing": 2,
    "resolve": {"scale": {"color": "independent"}, "legend": {"color": "independent"}},
    "hconcat": [
      {
        "title": {"text": "D", "dx": -22, "offset": 8},
        "width": 77, "height": 194,
        "encoding": {"y": {"field": "taxon", "type": "nominal", "sort": ["Allobaculum", "Ileibacterium", "Faecalibaculum", "Escherichia-Shigella", "norank_f_Muribaculaceae", "norank_f_Desulfovibrionaceae", "Lachnoclostridium", "[Eubacterium]_coprostanoligenes_group", "Romboutsia", "Blautia", "Helicobacter", "Parasutterella", "Candidatus_Saccharimonas", "[Acetivibrio]_ethanolgignens_group", "Lachnospiraceae_NK4A136_group", "Bacteroides", "Ruminiclostridium_9", "Lactobacillus", "Clostridium_sensu_stricto_13", "unclassified_f_Erysipelotrichaceae"], "scale": {"paddingInner": 0, "paddingOuter": 0}, "axis": {"title": null, "labelFontSize": 4.7, "minExtent": 106, "maxExtent": 106, "labelPadding": 1, "tickSize": 1.5}}},
        "layer": [
          {"data": {"name": "genusP"}, "transform": [{"filter": {"field": "taxon", "oneOf": ["Allobaculum", "Faecalibaculum", "norank_f_Muribaculaceae", "Lachnoclostridium", "Romboutsia", "Helicobacter", "Candidatus_Saccharimonas", "Lachnospiraceae_NK4A136_group", "Ruminiclostridium_9", "Clostridium_sensu_stricto_13"]}}], "mark": {"type": "bar", "color": "#eeeeee"}, "encoding": {"x": {"datum": 32, "type": "quantitative", "scale": {"domain": [0, 32], "nice": false}}}},
          {"data": {"name": "genusMeans"}, "mark": {"type": "bar"}, "encoding": {
            "x": {"field": "mean", "type": "quantitative", "scale": {"domain": [0, 32], "nice": false}, "axis": {"title": "Mean proportions (%)", "titleFontSize": 5, "titlePadding": 2, "labelFontSize": 3, "labelOverlap": false, "values": [0, 5, 10, 15, 20, 25, 30], "labelAngle": 0}},
            "yOffset": {"field": "group", "sort": ["Control", "HFHC", "HFHC+HEP"], "scale": {"paddingOuter": 0.25}},
            "color": {"field": "group", "type": "nominal", "scale": {"domain": ["Control", "HFHC", "HFHC+HEP"], "range": ["#e3262b", "#2b2bcc", "#1f7a35"]}, "legend": {"title": null, "orient": "right", "offset": 30, "labelFontSize": 4.2, "symbolSize": 10, "symbolType": "square", "rowPadding": 0}}
          }},
          {"data": {"name": "genusP"}, "mark": {"type": "text", "align": "left", "fontSize": 3, "color": "#333"}, "encoding": {"x": {"datum": 35, "type": "quantitative", "scale": {"domain": [0, 32], "nice": false}}, "text": {"field": "p"}}}
        ]
      },
      {
        "title": {"text": "E", "dx": -10},
        "width": 190, "height": 114,
        "data": {"name": "genusSamples"},
        "transform": [{"calculate": "indexof(['Allobaculum','Ileibacterium','Faecalibaculum','Escherichia-Shigella','norank_f_Muribaculaceae','norank_f_Desulfovibrionaceae','Lachnoclostridium','[Eubacterium]_coprostanoligenes_group','Romboutsia','Helicobacter','Blautia','Alistipes','Akkermansia','Parasutterella','unclassified_f_Lachnospiraceae','Candidatus_Saccharimonas','Lachnospiraceae_NK4A136_group','[Acetivibrio]_ethanolgignens_group','Bacteroides','others'], datum.genus)", "as": "rank"}],
        "mark": {"type": "bar", "width": 3.6},
        "encoding": {
          "x": {"field": "sample", "type": "nominal", "sort": null, "scale": {"type": "band", "paddingInner": 0, "paddingOuter": 0.1}, "axis": {"title": null, "labelAngle": -60, "labelFontSize": 3.2, "tickSize": 1}},
          "y": {"field": "pct", "type": "quantitative", "stack": "normalize", "axis": {"title": "Percent of community abundance on Genus level", "titleFontSize": 3.2, "titlePadding": 1.5, "labelFontSize": 3, "values": [0, 0.2, 0.4, 0.6, 0.8, 1], "labelExpr": "format(datum.value, '~g')"}},
          "color": {"field": "genus", "type": "nominal",
            "scale": {
              "domain": ["Allobaculum", "Ileibacterium", "Faecalibaculum", "Escherichia-Shigella", "norank_f_Muribaculaceae", "norank_f_Desulfovibrionaceae", "Lachnoclostridium", "[Eubacterium]_coprostanoligenes_group", "Romboutsia", "Helicobacter", "Blautia", "Alistipes", "Akkermansia", "Parasutterella", "unclassified_f_Lachnospiraceae", "Candidatus_Saccharimonas", "Lachnospiraceae_NK4A136_group", "[Acetivibrio]_ethanolgignens_group", "Bacteroides", "Lactobacillus", "Ruminiclostridium_9", "norank_f_Lachnospiraceae", "Clostridium_sensu_stricto_13", "unclassified_f_Erysipelotrichaceae", "[Ruminococcus]_torques_group", "Roseburia", "Erysipelatoclostridium", "Rikenellaceae_RC9_gut_group", "Bifidobacterium", "Mucispirillum", "Alloprevotella", "[Eubacterium]_fissicatena_group", "norank_f_Ruminococcaceae", "Parabacteroides", "Ruminiclostridium", "Ruminococcaceae_UCG-014", "Desulfovibrio", "Rikenella", "Citrobacter", "Anaerotruncus", "Dubosiella", "Odoribacter", "unclassified_f_Ruminococcaceae", "Clostridium_sensu_stricto_1", "[Clostridium]_innocuum_group", "Coriobacteriaceae_UCG-002", "norank_f_norank_o_Gastranaerophilales", "Providencia", "norank_f__Clostridiales_vadinBB60_group", "others"],
              "range": ["#14561c", "#e3191f", "#7236d6", "#49d6ea", "#3d7a1e", "#f2ea3a", "#f0632a", "#86e36a", "#d23aa8", "#8d2f86", "#f5a23a", "#f7c46a", "#5fe07a", "#f08a72", "#2e7a3c", "#d9483f", "#b6e46c", "#3a62d8", "#98e6e2", "#9aa0a6", "#9a4fd0", "#e6e07a", "#a845b0", "#3fbfe6", "#e46fc4", "#f29ac0", "#7fa37f", "#e8e23c", "#4a62e6", "#7a1414", "#e58ae2", "#2a86c8", "#f2937e", "#a6d24a", "#5aa84a", "#5a2212", "#f06a8a", "#d34444", "#62d2e6", "#55c4a4", "#c6e46a", "#f2c27e", "#a6e6a6", "#c8eed2", "#b264d6", "#e244c4", "#f286a6", "#f2f0a6", "#a6c4f2", "#1424c4"]
            },
            "legend": {"title": null, "orient": "right", "offset": 4, "columns": 2, "columnPadding": 6, "rowPadding": 0, "labelFontSize": 3.1, "symbolSize": 5, "symbolType": "square", "labelLimit": 120, "symbolLimit": 0}},
          "order": {"field": "rank", "type": "quantitative"}
        }
      }
    ]
  }
]
}
